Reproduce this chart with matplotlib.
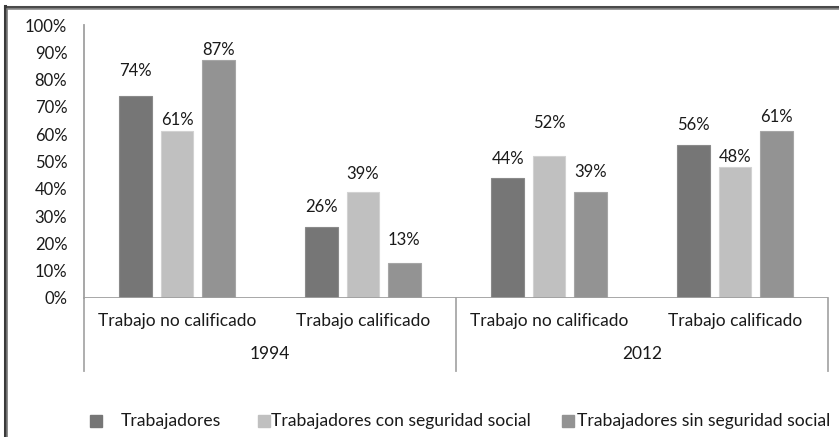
import numpy as np
import matplotlib.pyplot as plt
from matplotlib.patches import Rectangle
from matplotlib.lines import Line2D
from matplotlib.ticker import PercentFormatter

plt.rcParams['font.family'] = ['Lato', 'DejaVu Sans']

# Data
years = ['1994', '2012']
jobs = ['Trabajo no calificado', 'Trabajo calificado']
series = ['Trabajadores', 'Trabajadores con seguridad social', 'Trabajadores sin seguridad social']
trabajadores = [0.74, 0.26, 0.44, 0.56]
con_seguridad = [0.61, 0.39, 0.52, 0.48]
sin_seguridad = [0.87, 0.13, 0.39, 0.61]

# label heights (placed by hand in the original)
label_y = [[0.831, 0.333, 0.509, 0.634],
           [0.652, 0.454, 0.641, 0.516],
           [0.908, 0.212, 0.462, 0.663]]

colors = ['#767676', '#c0c0c0', '#939393']
edges = ['#8a8a8a', '#d2d2d2', '#a6a6a6']
txt = '#1a1a1a'

fig = plt.figure(figsize=(8.39, 4.37), dpi=100)
ax = fig.add_axes([84/839, 1-298/437, (828-84)/839, 273/437])

x = np.arange(4) + 0.5
width = 0.177
step = 0.221
values = [trabajadores, con_seguridad, sin_seguridad]
for i, vals in enumerate(values):
    xs = x + (i-1)*step
    ax.bar(xs, vals, width, color=colors[i], edgecolor=edges[i], linewidth=0.8, zorder=2)
    for xi, v, ly in zip(xs, vals, label_y[i]):
        ax.text(xi, ly, f'{round(v*100):.0f}%', ha='center', va='center', fontsize=12, color=txt)

ax.set_xlim(0, 4)
ax.set_ylim(0, 1)
ax.yaxis.set_major_formatter(PercentFormatter(1.0, decimals=0))
ax.set_yticks(np.arange(0, 1.01, 0.1))
ax.tick_params(axis='y', length=0, pad=12, labelsize=12, labelcolor=txt)
ax.set_xticks([])
for s in ['top', 'right', 'bottom']:
    ax.spines[s].set_visible(False)
ax.spines['left'].set_color('#a0a0a0')
ax.spines['left'].set_linewidth(1.3)
ax.axhline(0, color='#a0a0a0', lw=1.3, zorder=3)

# multi-level category axis
trans = ax.get_xaxis_transform()
for xv in [0, 2, 4]:
    ax.plot([xv, xv], [0, -0.267], color='#a8a8a8', lw=1.3, transform=trans, clip_on=False)
labels = jobs * 2
for xi, lab in zip(x, labels):
    ax.text(xi, -0.085, lab, ha='center', va='center', fontsize=12.5, color=txt, transform=trans)
for k, yr in enumerate(years):
    ax.text(2*k + 1, -0.205, yr, ha='center', va='center', fontsize=12.5, color=txt, transform=trans)

# legend
leg_x = [90, 258, 562]
txt_x = [121, 271, 577]
for mx, tx, name, c in zip(leg_x, txt_x, series, colors):
    fig.patches.append(Rectangle((mx/839, 1-427/437), 12/839, 12/437, transform=fig.transFigure,
                                 color=c, figure=fig))
    fig.text(tx/839, 1-421/437, name, ha='left', va='center', fontsize=12.6, color=txt)

# frame border (dark with lighter lower edge)
fig.add_artist(Line2D([5/839, 1], [1-6.5/437]*2, color='#4a4a4a', lw=2.2, transform=fig.transFigure))
fig.add_artist(Line2D([5/839, 1], [1-9/437]*2, color='#8a8a8a', lw=1.2, transform=fig.transFigure))
fig.add_artist(Line2D([5/839]*2, [0, 1-6/437], color='#3a3a3a', lw=2.2, transform=fig.transFigure))
fig.add_artist(Line2D([7.3/839]*2, [0, 1-9/437], color='#7a7a7a', lw=1.2, transform=fig.transFigure))

fig.savefig('out.png', dpi=100)
